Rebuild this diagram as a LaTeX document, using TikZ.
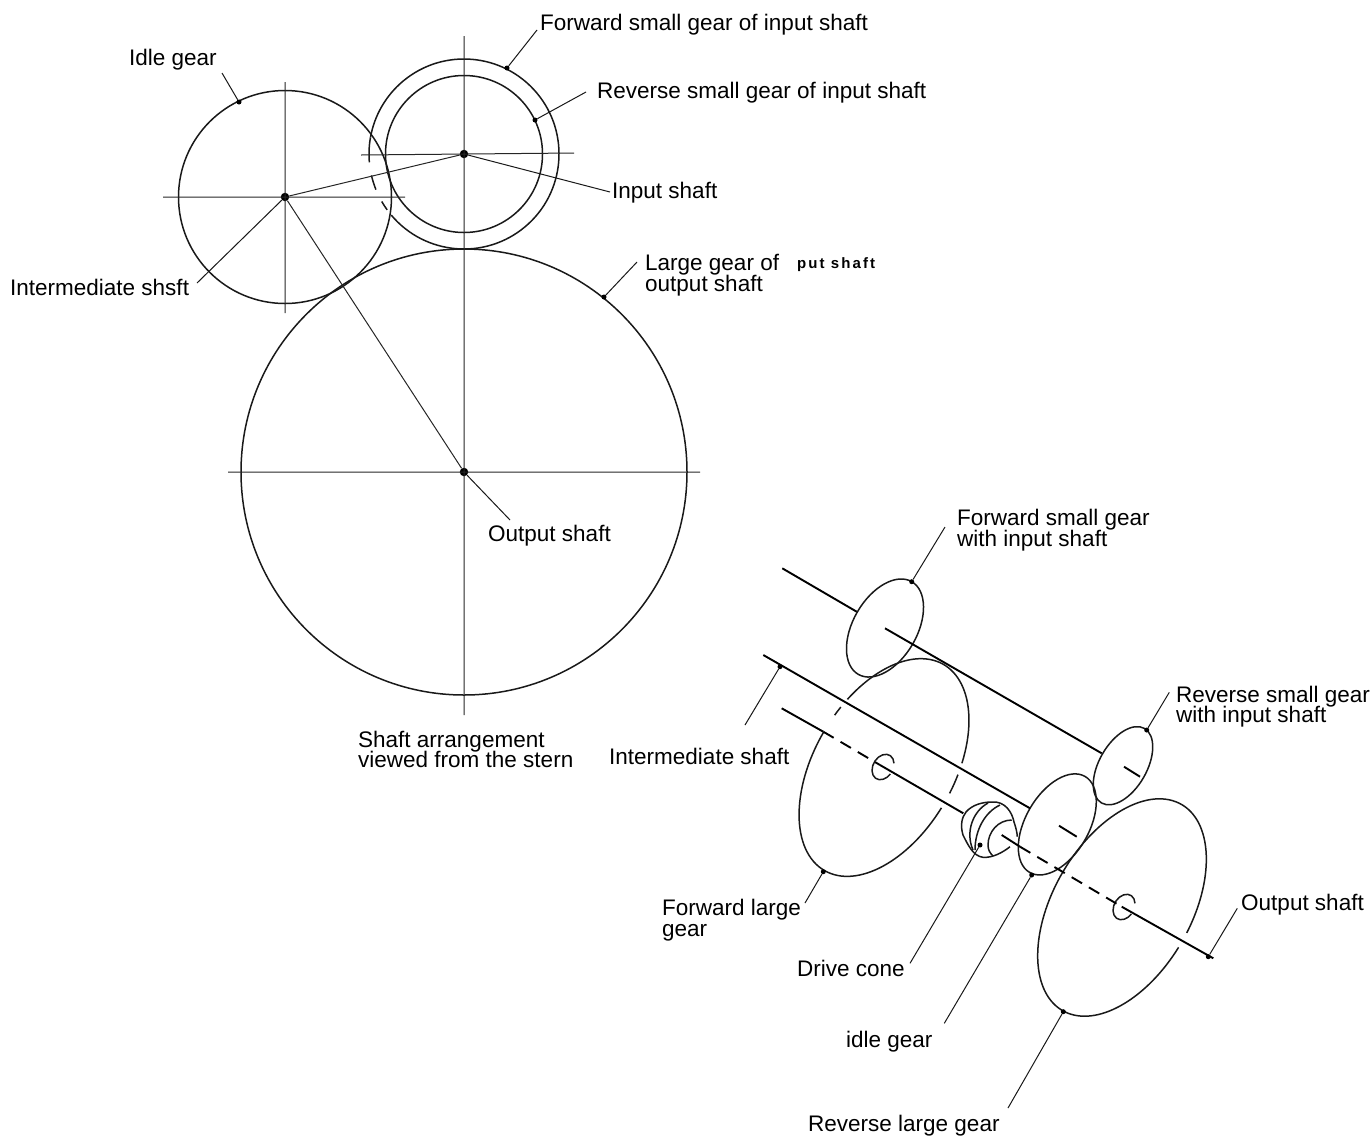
\documentclass[tikz,border=0pt]{standalone}
\usepackage{fontspec}
\setmainfont{Liberation Sans}
\newcommand\garc[6]{\draw[gearline,shift={(#1,#2)},rotate=60] (#5:#3pt and #4pt) arc[start angle=#5,end angle=#6,x radius=#3pt,y radius=#4pt];}
\begin{document}
\begin{tikzpicture}[x=1pt,y=-1pt,
  gearline/.style={line width=1.5pt,black!90},
  axis/.style={line width=1pt,black!85},
  shaft/.style={line width=1.9pt,black},
  dashshaft/.style={line width=1.9pt,black,dash pattern=on 12pt off 8pt},
  leader/.style={line width=1pt,black!90},
  centerdot/.style={circle,fill=black,inner sep=0pt,minimum size=8.5pt},
  tipdot/.style={circle,fill=black,inner sep=0pt,minimum size=5pt},
  lab/.style={font=\fontsize{22.5}{21}\selectfont,text=black,inner sep=0pt,anchor=base west,align=left}]
\useasboundingbox (0,0) rectangle (1372,1136);
% ---- upper drawing: centres
\node[centerdot] (idlec) at (285,197) {};
\node[centerdot] (inc) at (464,154) {};
\node[centerdot] (outc) at (464,472) {};
% gears
\draw[gearline] (idlec) circle[radius=106.5pt];
\draw[gearline] (inc) circle[radius=78.5pt];
\draw[gearline] (outc) circle[radius=223pt];
\draw[gearline] (inc) ++(220:95pt) arc[start angle=220,end angle=530,radius=95pt];
\draw[gearline] (inc) ++(185:95pt) arc[start angle=185,end angle=170,radius=95pt];
\draw[gearline] (inc) ++(193:95pt) arc[start angle=193,end angle=202,radius=95pt];
\draw[gearline] (inc) ++(210:95pt) arc[start angle=210,end angle=216,radius=95pt];
% axes
\coordinate (a1) at (285,82); \coordinate (a2) at (285,313);
\coordinate (a3) at (163,197); \coordinate (a4) at (405,197);
\coordinate (a5) at (464,36); \coordinate (a6) at (464,715);
\coordinate (a7) at (361,155); \coordinate (a8) at (574,153);
\coordinate (a9) at (228,472); \coordinate (a10) at (700,472);
\draw[axis] (a1)--(a2) (a3)--(a4) (a5)--(a6) (a7)--(a8) (a9)--(a10);
\draw[axis] (idlec)--(inc) (idlec)--(outc);
% labels, upper
\node[lab] (tFwdIn) at (540,30) {Forward small gear of input shaft};
\node[lab] (tIdle) at (129,65) {Idle gear};
\node[lab] (tRevIn) at (597,98) {Reverse small gear of input shaft};
\node[lab] (tIn) at (612,198) {Input shaft};
\node[lab] (tInter) at (10,295) {Intermediate shsft};
\node[lab] (tLarge) at (645,270) {Large gear of};
\node[lab] (tLarge2) at (645,291) {output shaft};
\node[font=\fontsize{15}{15}\selectfont\bfseries\addfontfeature{LetterSpace=14},text=black,inner sep=0pt,anchor=base west] (tPut) at (797,268) {put shaft};
\node[lab] (tOut) at (488,541) {Output shaft};
\node[lab] (tArr) at (358,747) {Shaft arrangement};
\node[lab] (tArr2) at (358,767) {viewed from the stern};
% leaders, upper
\node[tipdot] (d1) at (507,68) {}; \coordinate (e1) at (537,30);
\node[tipdot] (d2) at (239,102) {}; \coordinate (e2) at (222,73);
\node[tipdot] (d3) at (535,120) {}; \coordinate (e3) at (586,92);
\node[tipdot] (d4) at (604,297) {}; \coordinate (e4) at (637,262);
\coordinate (e5) at (610,192); \coordinate (e6) at (197,283); \coordinate (e7) at (510,520);
\draw[leader] (d1)--(e1) (d2)--(e2) (d3)--(e3) (d4)--(e4) (inc)--(e5) (idlec)--(e6) (outc)--(e7);
% ---- lower right drawing
\garc{885}{628}{53.5}{32}{0}{360}
\garc{1123}{765.7}{43}{23.7}{0}{360}
\garc{1057.3}{824.4}{55.4}{31.7}{0}{360}
% forward large
\garc{884}{767.5}{119}{70}{-69}{70}
\garc{884}{767.5}{119}{70}{75}{80}
\garc{884}{767.5}{119}{70}{90}{267}
\garc{884}{767.5}{119}{70}{-85}{-75}
% reverse large
\garc{1122}{907.5}{119}{69}{-85}{267}
% hubs
\garc{883}{767}{13.5}{10}{-50}{260}
\garc{1124}{907}{13.5}{10}{-50}{260}
% shafts
\coordinate (s1) at (782.3,568.3); \coordinate (s2) at (856.7,611.7);
\coordinate (s3) at (885,628.3); \coordinate (s4) at (1101.7,753.3);
\coordinate (s5) at (1124,766.7); \coordinate (s6) at (1140,776.7);
\coordinate (m1) at (763.3,655); \coordinate (m2) at (1030,808.3);
\coordinate (m3) at (1059,825.7); \coordinate (m4) at (1076.7,836.7);
\coordinate (o1) at (781.7,708.3); \coordinate (o2) at (823.3,731.7);
\coordinate (o3) at (880,765); \coordinate (o4) at (963.3,813.3);
\coordinate (o5) at (1001.7,835); \coordinate (o6) at (1020,846.7);
\coordinate (o7) at (1121.7,906.7); \coordinate (o8) at (1213.3,958.3);
\draw[shaft] (s1)--(s2) (s3)--(s4) (s5)--(s6) (m1)--(m2) (m3)--(m4) (o1)--(o2) (o3)--(o4) (o5)--(o6) (o7)--(o8);
\draw[dashshaft] (o2)--(o3) (o6)--(o7);
% drive cone
\draw[gearline] (1010,846.7) .. controls (1002,853) and (992,858) .. (983,857.3)
  .. controls (973,856) and (968,845) .. (963,835)
  .. controls (960,825) and (962,817) .. (966,812)
  .. controls (972,805) and (982,802) .. (992,802)
  .. controls (1005,801) and (1012,812) .. (1014,822)
  .. controls (1016,828) and (1017,832) .. (1017.3,836.7);
\draw[gearline] (988,803) .. controls (973,811) and (965,832) .. (973,850);
\draw[gearline] (1000,805) .. controls (985,812) and (975,830) .. (975,850);
\draw[gearline] (1011.7,820) .. controls (998,820) and (988,832) .. (988,845) .. controls (988,850) and (990,853) .. (993,856);
% labels, lower
\node[lab] (tF2) at (957,525) {Forward small gear};
\node[lab] (tF3) at (957,546) {with input shaft};
\node[lab] (tR2) at (1176,702) {Reverse small gear};
\node[lab] (tR3) at (1176,722) {with input shaft};
\node[lab] (tI2) at (609,764) {Intermediate shaft};
\node[lab] (tFL) at (662,915) {Forward large};
\node[lab] (tFL2) at (662,936) {gear};
\node[lab] (tDC) at (797,976) {Drive cone};
\node[lab] (tIG) at (846,1047) {idle gear};
\node[lab] (tRL) at (808,1131) {Reverse large gear};
\node[lab] (tOS) at (1241,910) {Output shaft};
% leaders, lower
\node[tipdot] (f1) at (911.7,581.7) {}; \coordinate (g1) at (945,527);
\node[tipdot] (f2) at (780,666.7) {}; \coordinate (g2) at (745,725);
\node[tipdot] (f3) at (1146.7,730) {}; \coordinate (g3) at (1169.3,692.3);
\node[tipdot] (f4) at (823.3,871.7) {}; \coordinate (g4) at (805,903);
\node[tipdot] (f5) at (980,845) {}; \coordinate (g5) at (910,963.3);
\node[tipdot] (f6) at (1031.7,875) {}; \coordinate (g6) at (944.3,1023.3);
\node[tipdot] (f7) at (1063.3,1011.7) {}; \coordinate (g7) at (1008,1108);
\node[tipdot] (f8) at (1208.3,956.7) {}; \coordinate (g8) at (1237.3,908.3);
\draw[leader] (f1)--(g1) (f2)--(g2) (f3)--(g3) (f4)--(g4) (f5)--(g5) (f6)--(g6) (f7)--(g7) (f8)--(g8);
\end{tikzpicture}
\end{document}
